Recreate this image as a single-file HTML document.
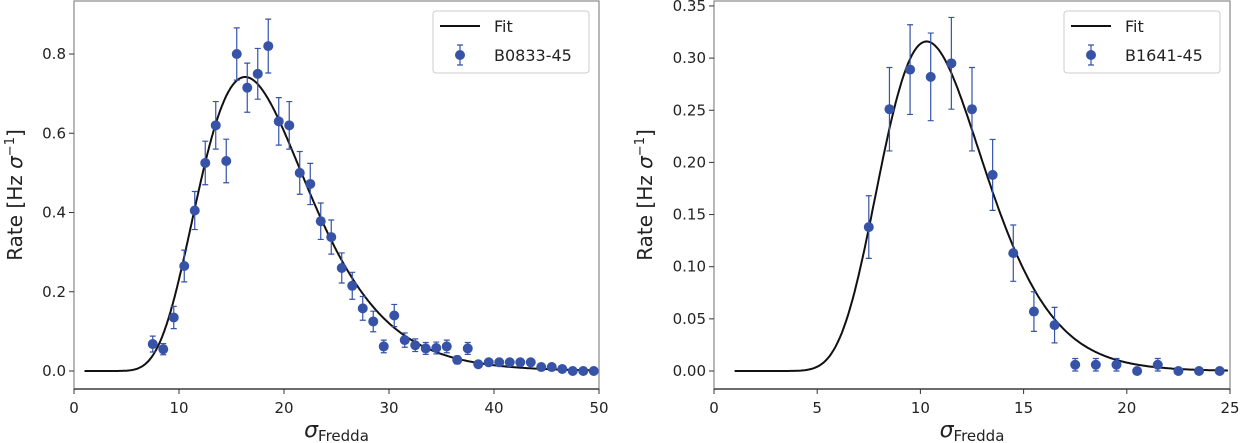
<!DOCTYPE html>
<html><head><meta charset="utf-8"><style>
body{margin:0;background:#fff}
svg{display:block;font-family:"DejaVu Sans","Liberation Sans",sans-serif}
</style></head><body>
<svg id="chart" width="1240" height="443" viewBox="0 0 1240 443"></svg>
<script>
const leftX = [7.5,8.5,9.5,10.5,11.5,12.5,13.5,14.5,15.5,16.5,17.5,18.5,19.5,20.5,21.5,22.5,23.5,24.5,25.5,26.5,27.5,28.5,29.5,30.5,31.5,32.5,33.5,34.5,35.5,36.5,37.5,38.5,39.5,40.5,41.5,42.5,43.5,44.5,45.5,46.5,47.5,48.5,49.5];
const leftY = [0.068,0.055,0.135,0.265,0.405,0.525,0.62,0.53,0.80,0.715,0.75,0.82,0.63,0.62,0.50,0.472,0.378,0.338,0.26,0.215,0.158,0.125,0.062,0.14,0.078,0.065,0.057,0.058,0.062,0.028,0.057,0.017,0.022,0.022,0.022,0.022,0.022,0.010,0.010,0.005,0,0,0];
const leftErr = [0.02,0.014,0.028,0.04,0.048,0.055,0.06,0.055,0.066,0.062,0.064,0.068,0.06,0.06,0.054,0.052,0.046,0.043,0.038,0.034,0.03,0.026,0.016,0.028,0.018,0.016,0.015,0.015,0.016,0.01,0.015,0.006,0.006,0.006,0.006,0.006,0.006,0.004,0.004,0.003,0,0,0];
const rightX = [7.5,8.5,9.5,10.5,11.5,12.5,13.5,14.5,15.5,16.5,17.5,18.5,19.5,20.5,21.5,22.5,23.5,24.5];
const rightY = [0.138,0.251,0.289,0.282,0.295,0.251,0.188,0.113,0.057,0.044,0.006,0.006,0.006,0,0.006,0,0,0];
const rightErr = [0.030,0.040,0.043,0.042,0.044,0.040,0.034,0.027,0.019,0.017,0.006,0.006,0.006,0,0.006,0,0,0];
const leftTicksX = [0,10,20,30,40,50];
const leftTicksY = [0,0.2,0.4,0.6,0.8];
const leftTickLabelsY = ["0.0","0.2","0.4","0.6","0.8"];
const rightTicksX = [0,5,10,15,20,25];
const rightTicksY = [0,0.05,0.1,0.15,0.2,0.25,0.3,0.35];
const rightTickLabelsY = ["0.00","0.05","0.10","0.15","0.20","0.25","0.30","0.35"];
const leftFit = [0.742,16.3,0.32];
const rightFit = [0.316,10.3,0.245];

const NS="http://www.w3.org/2000/svg";
const svg=document.getElementById('chart');
function mk(tag,attrs,parent){const e=document.createElementNS(NS,tag);for(const k in attrs)e.setAttribute(k,attrs[k]);(parent||svg).appendChild(e);return e;}
function fitVal(p,x){const s=p[2],mu=Math.log(p[1])+s*s;const f=v=>Math.exp(-Math.pow(Math.log(v)-mu,2)/(2*s*s))/v;return p[0]*f(x)/f(p[1]);}

function panel(o){
  const g=mk('g',{});
  
  
  const sx=v=>o.l+(v-o.xmin)/(o.xmax-o.xmin)*(o.r-o.l);
  const sy=v=>o.y0-v*o.ys;
  const frame=mk('rect',{x:o.l,y:o.t,width:o.r-o.l,height:o.b-o.t,fill:'none',stroke:'#888','stroke-width':1.2},g);
  
  
  mk('line',{x1:o.l,x2:o.r,y1:o.b,y2:o.b,stroke:'#222','stroke-width':1.2},g);
  o.tx.forEach(v=>{
    mk('line',{x1:sx(v),x2:sx(v),y1:o.b,y2:o.b+5,stroke:'#333'},g);
    const t=mk('text',{x:sx(v),y:o.b+24,'text-anchor':'middle','font-size':15,fill:'#222'},g);
    t.textContent=v;
    
    
  });
  o.ty.forEach((v,i)=>{
    mk('line',{x1:o.l-5,x2:o.l,y1:sy(v),y2:sy(v),stroke:'#333'},g);
    const t=mk('text',{x:o.l-8,y:sy(v)+5,'text-anchor':'end','font-size':15,fill:'#222'},g);
    t.textContent=o.tyl[i];
    
    
  });
  let d='';
  for(let x=1;x<=o.xmax;x+=0.1){d+=(d?'L':'M')+sx(x).toFixed(1)+','+sy(fitVal(o.fit,x)).toFixed(1);}
  const fl=mk('path',{d:d,fill:'none',stroke:'#111','stroke-width':2},g);
  
  
  const col='#3653a8';
  o.xs.forEach((x,i)=>{
    const cx=sx(x),cy=sy(o.ys_[i]),e=o.err[i];
    if(e>0){
      const eb=mk('path',{d:`M${cx},${sy(o.ys_[i]+e)}V${sy(o.ys_[i]-e)}M${cx-3},${sy(o.ys_[i]+e)}h6M${cx-3},${sy(o.ys_[i]-e)}h6`,stroke:col,'stroke-width':1.2,fill:'none'},g);
      
      
    }
    const c=mk('circle',{cx:cx,cy:cy,r:5,fill:col},g);
    
    
  });
  const lg=mk('g',{},g);
  
  
  const L=o.r-166;
  mk('rect',{x:L,y:11,width:156,height:62,rx:3,fill:'#fff','fill-opacity':0.9,stroke:'#ccc'},lg);
  mk('line',{x1:L+7,x2:L+47,y1:26,y2:26,stroke:'#111','stroke-width':2},lg);
  const t1=mk('text',{x:L+61,y:32,'font-size':16,fill:'#222'},lg);t1.textContent='Fit';
  
  
  mk('path',{d:`M${L+27},45V65M${L+24},45h6M${L+24},65h6`,stroke:col,'stroke-width':1.2},lg);
  mk('circle',{cx:L+27,cy:55,r:5,fill:col},lg);
  const t2=mk('text',{x:L+61,y:61,'font-size':16,fill:'#222'},lg);t2.textContent=o.label;
  
  
  const xt=mk('text',{x:(o.l+o.r)/2,y:437,'text-anchor':'middle','font-size':22,fill:'#222'},g);
  xt.innerHTML='<tspan font-style="italic">σ</tspan><tspan font-size="15" dy="4">Fredda</tspan>';
  
  
  const yt=mk('text',{x:0,y:0,'text-anchor':'middle','font-size':20,fill:'#222',transform:`translate(${o.l-o.ytOff},${(o.t+o.b)/2}) rotate(-90)`},g);
  yt.innerHTML='Rate [Hz <tspan font-style="italic">σ</tspan><tspan font-size="13" dy="-8">−1</tspan><tspan dy="8">]</tspan>';
  
  
}
panel({name:'left-panel',l:74,r:599,t:1,b:389,xmin:0,xmax:50,y0:371,ys:396.25,tx:leftTicksX,ty:leftTicksY,tyl:leftTickLabelsY,xs:leftX,ys_:leftY,err:leftErr,fit:leftFit,label:'B0833-45',ytOff:52});
panel({name:'right-panel',l:714,r:1230,t:1,b:389,xmin:0,xmax:25,y0:371,ys:1043,tx:rightTicksX,ty:rightTicksY,tyl:rightTickLabelsY,xs:rightX,ys_:rightY,err:rightErr,fit:rightFit,label:'B1641-45',ytOff:62});
</script>
</body></html>
